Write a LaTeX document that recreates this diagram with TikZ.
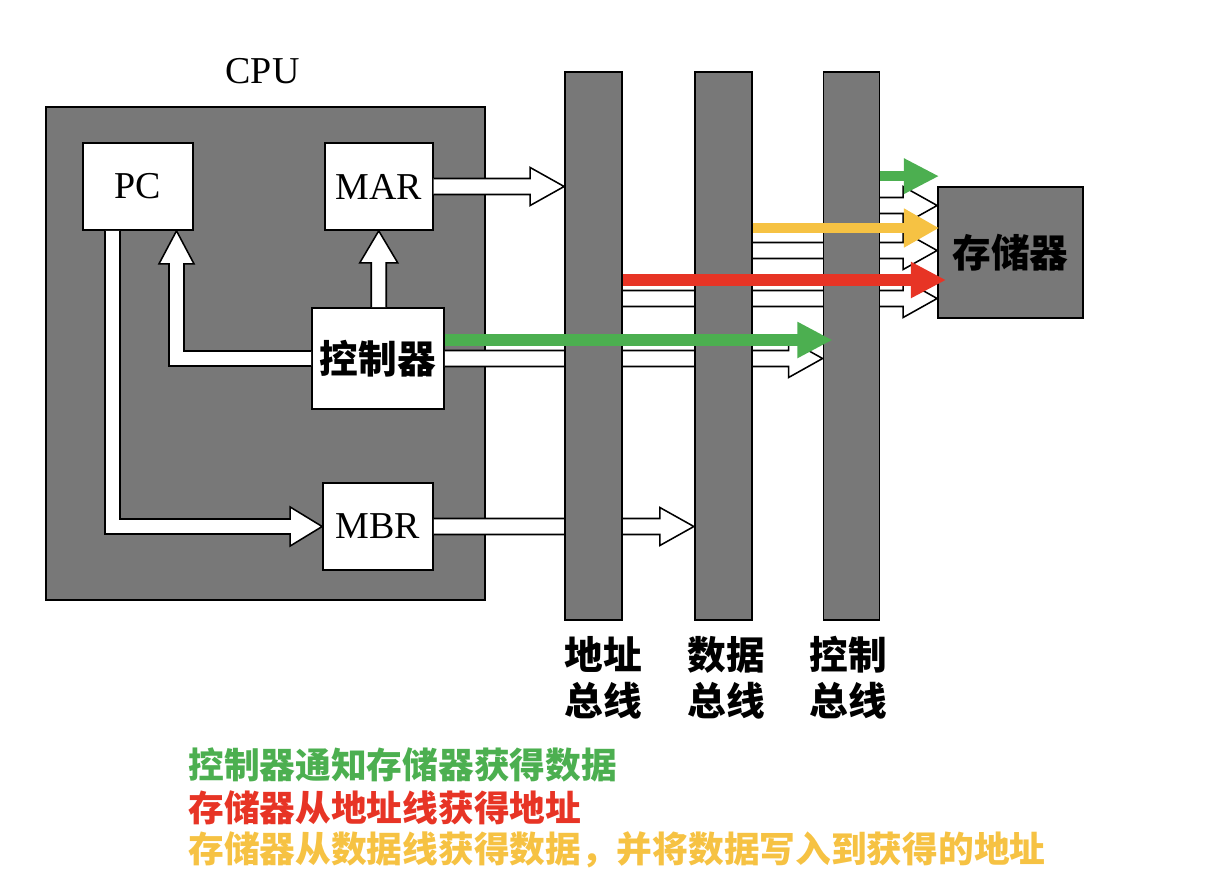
\documentclass[tikz,border=0pt]{standalone}
\usepackage{fontspec}
\setmainfont{Liberation Serif}
\newfontfamily\cjk{Noto Sans CJK SC}
\usetikzlibrary{positioning, arrows.meta, calc, backgrounds}

\definecolor{boxgray}{RGB}{120,120,120}
\definecolor{sgreen}{RGB}{76,175,80}
\definecolor{sred}{RGB}{231,52,37}
\definecolor{syellow}{RGB}{246,194,67}

\pgfdeclarelayer{front}
\pgfsetlayers{background,main,front}

% hollow arrow pointing right: #1 start of shaft, #2 tip
\newcommand{\hollowright}[2]{%
  \draw[hollow] ($#1+(0,-8)$) -- ($#2+(-34,-8)$) -- ($#2+(-34,-19)$) -- #2
    -- ($#2+(-34,19)$) -- ($#2+(-34,8)$) -- ($#1+(0,8)$);}

\begin{document}
\begin{tikzpicture}[
    x=0.025cm, y=-0.025cm,
    font=\fontsize{27pt}{30pt}\selectfont,
    unit/.style={rectangle, draw=black, line width=1.2pt, fill=white, inner sep=0pt, minimum width=2.75cm, minimum height=2.175cm},
    greybox/.style={rectangle, draw=black, line width=1.2pt, fill=boxgray, inner sep=0pt},
    bus/.style={greybox, minimum width=1.425cm, minimum height=13.7cm},
    hollow/.style={draw=black, fill=white, line width=1.1pt, line join=miter},
    signal/.style={line width=8.5pt, -{Triangle[length=25pt, width=24pt]}},
    cjklabel/.style={font=\cjk\bfseries\fontsize{27.5pt}{32.7pt}\selectfont, align=center, inner sep=0pt},
    legend/.style={anchor=west, inner sep=0pt, font=\cjk\bfseries\fontsize{25.4pt}{28pt}\selectfont},
]
\useasboundingbox (0,0) rectangle (1210,880);

% CPU
\begin{scope}[on background layer]
    \node[greybox, minimum width=10.975cm, minimum height=12.325cm] (cpu) at (265.5,353.5) {};
\end{scope}
\node (cpulabel) at ($(cpu.north)+(-3,-35)$) {CPU};

% registers
\node[unit] (pc) at (138,186.5) {PC};
\node[unit, minimum width=2.7cm, right=3.25cm of pc] (mar) {MAR};
\node[unit, cjklabel, minimum width=3.3cm, minimum height=2.525cm] (ctrl) at (378,358.5) {控制器};
\node[unit] (mbr) at (378,526.5) {MBR};

% buses and memory
\begin{pgfonlayer}{front}
    \node[bus] (abus) at (593.5,346) {};
    \node[bus, right=1.775cm of abus] (dbus) {};
    \node[bus, minimum width=1.4cm, right=1.75cm of dbus] (cbus) {};
    \node[greybox, cjklabel, minimum width=3.625cm, minimum height=3.275cm] (mem) at (1010.5,252.5) {存储器};
\end{pgfonlayer}

\node[cjklabel, below=11pt of abus, xshift=0.25cm] (abuslabel) {地址\\总线};
\node[cjklabel, below=11pt of dbus, xshift=0.08cm] (dbuslabel) {数据\\总线};
\node[cjklabel, below=11pt of cbus, xshift=-0.08cm] (cbuslabel) {控制\\总线};

% inside CPU
\coordinate (pcdown) at ($(pc.south)+(-25.5,0)$);
\coordinate (pcbend) at (pcdown |- mbr.west);
\draw[hollow] ($(pcdown)+(-7.5,0)$) -- ($(pcbend)+(-7.5,7.5)$) -- ($(mbr.west)+(-32,7.5)$)
    -- ($(mbr.west)+(-32,19.5)$) -- (mbr.west) -- ($(mbr.west)+(-32,-19.5)$)
    -- ($(mbr.west)+(-32,-7.5)$) -- ($(pcbend)+(7.5,-7.5)$) -- ($(pcdown)+(7.5,0)$);

\coordinate (pcup) at ($(pc.south)+(38.5,0)$);
\coordinate (ctrlbend) at (pcup |- ctrl.west);
\draw[hollow] ($(ctrl.west)+(0,-7.5)$) -- ($(ctrlbend)+(7.5,-7.5)$) -- ($(pcup)+(7.5,33)$)
    -- ($(pcup)+(17.5,33)$) -- (pcup) -- ($(pcup)+(-17.5,33)$)
    -- ($(pcup)+(-7.5,33)$) -- ($(ctrlbend)+(-7.5,7.5)$) -- ($(ctrl.west)+(0,7.5)$);

\draw[hollow] ($(mar.south |- ctrl.north)+(-7.5,0)$) -- ($(mar.south)+(-7.5,32)$) -- ($(mar.south)+(-19,32)$)
    -- (mar.south) -- ($(mar.south)+(19,32)$) -- ($(mar.south)+(7.5,32)$) -- ($(mar.south |- ctrl.north)+(7.5,0)$);

% to the buses
\hollowright{(mar.east)}{(abus.west |- mar.east)}
\hollowright{(mbr.east)}{(dbus.west |- mbr.east)}
\hollowright{(ctrl.east)}{(cbus.west |- ctrl.east)}

% buses to memory
\coordinate (cin) at ($(mem.west)+(0,-47)$);
\coordinate (din) at ($(mem.west)+(0,-2)$);
\coordinate (ain) at ($(mem.west)+(0,46)$);
\hollowright{(cbus.center |- cin)}{(cin)}
\hollowright{(dbus.center |- din)}{(din)}
\hollowright{(abus.center |- ain)}{(ain)}

% coloured steps
\begin{pgfonlayer}{front}
    \coordinate (gtip) at ($(mem.north west)+(2,-10)$);
    \coordinate (ytip) at ($(mem.west)+(2,-24.5)$);
    \coordinate (rtip) at ($(mem.west)+(9,27.5)$);
    \coordinate (ctip) at ($(cbus.west)+(10,-6)$);
    \draw[signal, sgreen, line width=7pt, -{Triangle[length=25pt, width=23.5pt]}] (cbus.east |- gtip) -- (gtip);
    \draw[signal, syellow, line width=7.8pt, -{Triangle[length=25pt, width=26pt]}] (dbus.east |- ytip) -- (ytip);
    \draw[signal, sred] (abus.east |- rtip) -- (rtip);
    \draw[signal, sgreen] (ctrl.east |- ctip) -- (ctip);
\end{pgfonlayer}

% notes
\node[legend, text=sgreen] (note1) at (188,765) {控制器通知存储器获得数据};
\node[legend, text=sred] (note2) at (188,808) {存储器从地址线获得地址};
\node[legend, text=syellow] (note3) at (188,850) {存储器从数据线获得数据，并将数据写入到获得的地址};

\end{tikzpicture}
\end{document}
